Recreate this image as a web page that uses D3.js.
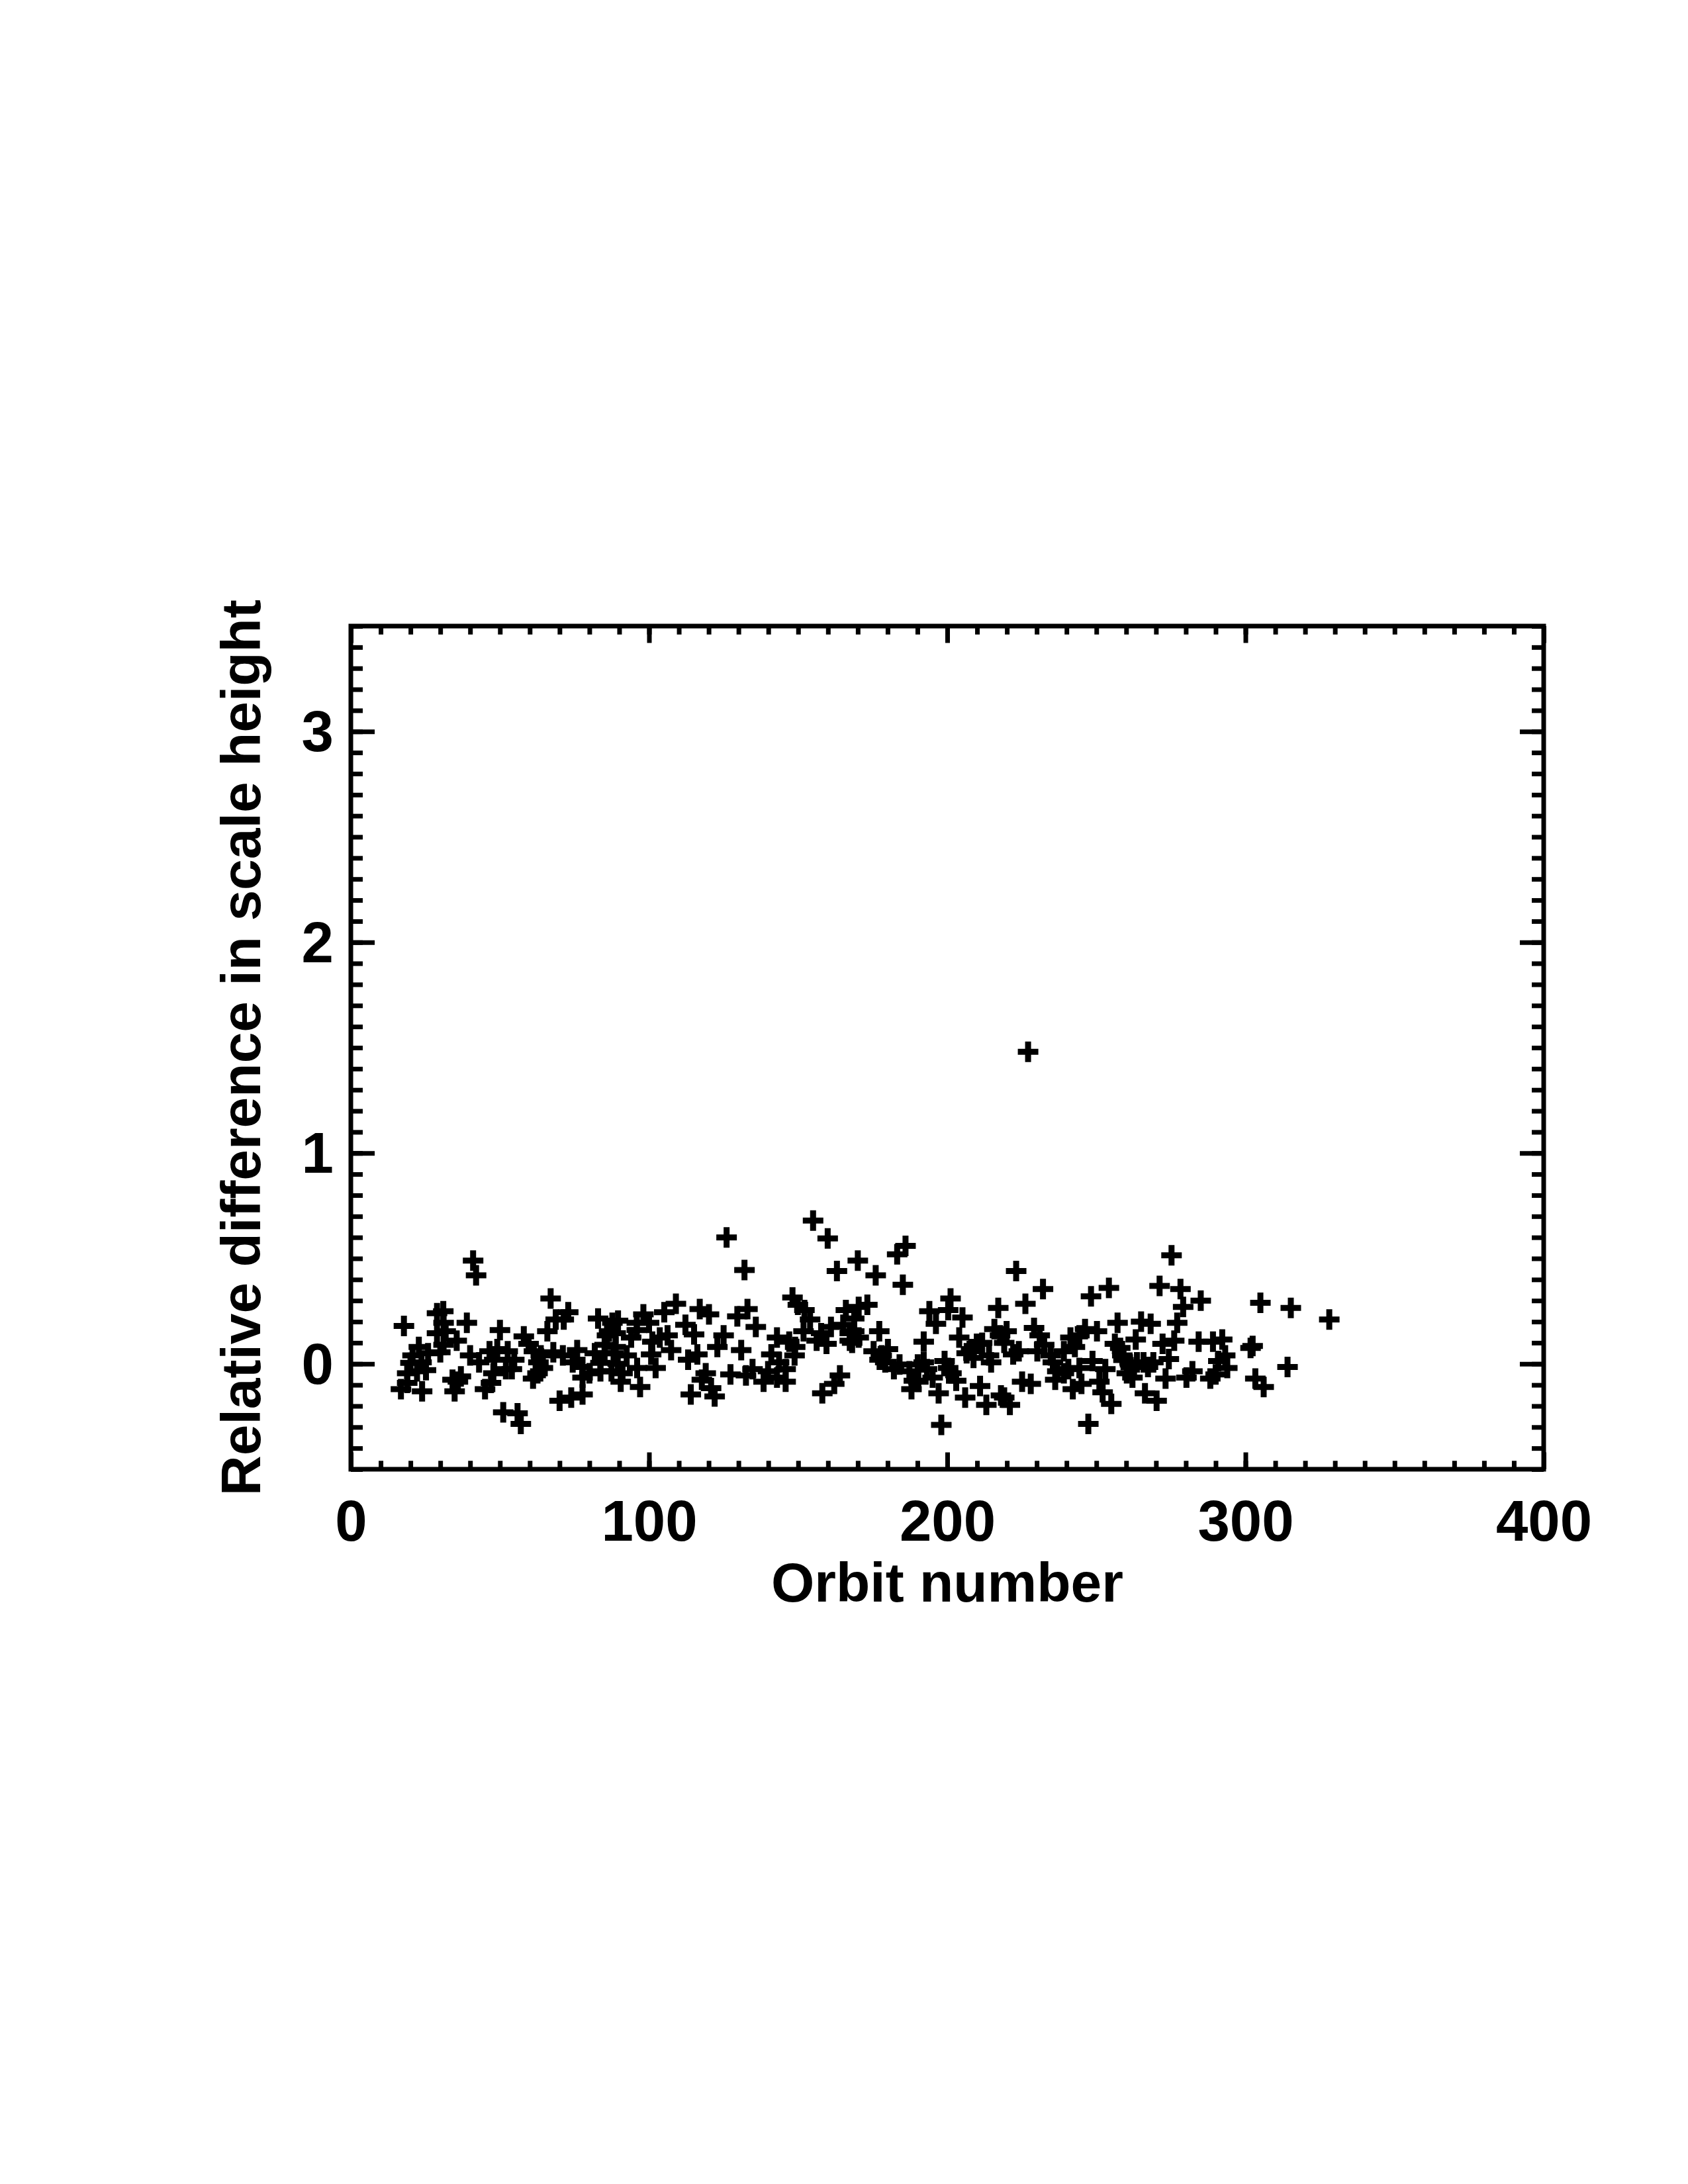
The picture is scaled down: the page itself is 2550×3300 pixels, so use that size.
<!DOCTYPE html>
<html>
<head>
<meta charset="utf-8">
<script src="https://cdn.jsdelivr.net/npm/d3@7"></script>
<style>
  body { margin: 0; background: #fff; }
  text { font-family: "Liberation Sans", Arial, Helvetica, sans-serif; font-weight: bold; fill: #000; }
</style>
</head>
<body>
<div id="chart"></div>
<script>
const orbit = [
  16.8, 17.8, 18.9, 18.9, 20.0, 20.7, 22.2, 22.8, 23.7, 23.9,
  25.2, 25.9, 28.9, 28.9, 30.0, 31.0, 31.1, 31.1, 31.8, 34.1,
  34.8, 35.5, 35.9, 36.9, 38.9, 40.0, 41.0, 42.0, 43.0, 45.0,
  46.5, 47.0, 47.8, 48.1, 49.1, 50.0, 51.1, 52.0, 52.6, 54.0,
  54.8, 55.9, 57.0, 58.0, 59.6, 61.1, 61.4, 62.6, 62.9, 63.7,
  64.4, 65.9, 67.0, 67.9, 68.7, 70.0, 71.1, 71.4, 72.9, 73.9,
  74.4, 75.9, 77.7, 77.7, 77.7, 80.0, 81.8, 82.9, 83.7, 83.7,
  85.1, 85.1, 85.9, 86.6, 87.4, 87.7, 88.1, 88.8, 88.8, 89.5,
  89.6, 90.5, 91.1, 92.5, 94.0, 95.9, 95.9, 96.0, 97.0, 98.1,
  100.0, 100.7, 101.1, 102.2, 103.6, 105.1, 106.2, 107.4, 109.0, 112.2,
  113.1, 114.0, 115.1, 116.2, 117.0, 117.7, 119.0, 120.1, 120.8, 122.0,
  122.9, 125.0, 126.0, 127.3, 129.6, 130.9, 132.0, 132.5, 133.0, 134.7,
  135.8, 138.4, 139.9, 141.0, 142.9, 142.9, 143.6, 145.8, 145.8, 147.0,
  148.1, 148.8, 149.0, 149.9, 151.8, 152.1, 154.0, 155.0, 156.2, 157.7,
  158.1, 159.5, 159.9, 161.0, 162.1, 163.0, 164.0, 165.1, 166.0, 167.3,
  167.3, 168.1, 168.8, 168.8, 170.0, 170.3, 170.3, 173.2, 175.3, 176.0,
  177.2, 177.3, 178.0, 179.2, 180.1, 182.1, 183.2, 184.0, 185.1, 186.0,
  187.3, 188.0, 188.8, 190.1, 190.3, 192.1, 192.1, 193.2, 194.0, 195.1,
  196.2, 197.1, 198.0, 199.1, 200.3, 200.3, 201.1, 201.4, 203.0, 204.0,
  205.1, 206.0, 206.5, 208.0, 208.8, 209.9, 211.0, 211.7, 213.1, 214.0,
  214.7, 215.8, 217.1, 217.7, 218.0, 219.1, 219.1, 219.9, 221.0, 222.1,
  223.1, 224.0, 225.1, 226.2, 227.1, 228.0, 229.1, 230.2, 231.0, 232.1,
  232.5, 234.7, 235.4, 236.2, 236.9, 239.1, 239.1, 240.6, 241.3, 242.1,
  242.8, 244.3, 244.3, 245.0, 246.2, 247.3, 248.2, 248.7, 250.2, 251.0,
  252.1, 253.0, 254.2, 255.0, 256.2, 257.1, 258.0, 258.7, 259.1, 260.2,
  261.3, 262.1, 263.2, 263.6, 265.0, 265.8, 266.3, 267.3, 268.2, 269.1,
  270.2, 271.2, 272.2, 273.2, 274.3, 275.2, 276.1, 277.1, 278.2, 279.1,
  280.2, 282.2, 284.3, 285.0, 288.2, 289.1, 290.0, 290.9, 292.2, 293.2,
  293.9, 301.7, 302.4, 303.3, 305.0, 306.1, 314.1, 315.2, 328.1
];

// relative difference in scale height, same order as orbit
const relDiff = [
  -0.12, 0.18, -0.09, -0.045, 0.005, 0.04, -0.035, 0.08, 0.007, -0.13,
  -0.03, 0.05, 0.24, 0.145, 0.055, 0.25, 0.195, 0.09, 0.155, -0.075,
  -0.13, 0.11, -0.085, -0.06, 0.195, 0.04, 0.49, 0.42, 0.007, -0.12,
  0.06, -0.09, -0.045, 0.02, 0.07, 0.16, -0.23, -0.025, 0.06, -0.025,
  0.02, -0.235, -0.285, 0.13, 0.095, -0.07, 0.06, -0.045, 0.007, 0.04,
  -0.02, 0.155, 0.31, 0.055, 0.21, -0.175, 0.04, 0.21, 0.245, -0.16,
  0.007, 0.065, -0.015, -0.065, -0.145, -0.045, 0.05, 0.215, -0.035, 0.005,
  0.09, 0.05, 0.135, 0.155, -0.035, 0.195, 0.05, 0.145, 0.08, 0.0,
  0.205, -0.085, -0.045, 0.04, 0.125, 0.195, 0.16, -0.02, -0.11, 0.235,
  0.195, 0.045, 0.105, -0.02, 0.125, 0.245, 0.135, 0.065, 0.285, 0.185,
  0.02, -0.145, 0.14, 0.045, 0.26, -0.075, -0.045, 0.235, -0.115, -0.155,
  0.08, 0.135, 0.6, -0.05, 0.225, 0.065, 0.445, -0.055, 0.26, -0.025,
  0.175, -0.085, -0.035, 0.045, 0.125, -0.065, 0.007, -0.025, -0.085, 0.105,
  0.315, 0.04, 0.08, 0.28, 0.155, 0.255, 0.21, 0.68, 0.11, 0.145,
  -0.14, 0.095, 0.595, 0.175, -0.095, 0.44, -0.055, 0.185, 0.255, 0.145,
  0.11, 0.1, 0.215, 0.155, 0.49, 0.27, 0.125, 0.28, 0.06, 0.42,
  0.155, 0.02, 0.04, 0.007, 0.07, -0.025, 0.52, -0.003, 0.375, 0.56,
  -0.035, -0.12, -0.08, -0.003, -0.085, 0.105, 0.007, -0.025, 0.25, -0.065,
  0.19, -0.14, -0.29, 0.013, 0.255, -0.02, 0.31, -0.045, -0.08, 0.125,
  0.22, -0.16, 0.05, 0.07, 0.028, 0.095, -0.105, 0.1, -0.195, 0.04,
  0.007, 0.165, 0.265, 0.135, -0.15, 0.1, -0.16, 0.155, -0.195, 0.045,
  0.44, 0.06, -0.085, 0.285, 1.48, -0.095, 0.17, 0.06, 0.135, 0.355,
  0.09, 0.04, 0.007, -0.075, -0.035, 0.06, -0.045, -0.025, 0.125, -0.12,
  0.08, 0.135, -0.02, -0.095, 0.165, -0.285, 0.32, 0.013, 0.155, -0.085,
  -0.135, -0.025, 0.36, -0.19, 0.095, 0.195, 0.075, 0.04, 0.018, -0.045,
  -0.003, -0.065, 0.115, 0.007, 0.2, 0.007, -0.14, -0.015, 0.19, 0.007,
  -0.175, 0.37, 0.095, -0.07, 0.023, 0.515, 0.11, 0.195, 0.355, 0.27,
  -0.065, -0.035, 0.105, 0.3, -0.07, 0.105, -0.05, 0.013, 0.115, 0.04,
  -0.02, 0.075, 0.085, -0.07, 0.29, -0.11, -0.015, 0.265, 0.21
];

// axis ranges and tick labels
const xDomain = [0, 400];
const yDomain = [-0.5, 3.5];
const xTicks = [0, 100, 200, 300, 400];
const yTicks = [0, 1, 2, 3];
const xMinorStep = 10;
const yMinorStep = 0.1;
const xTitle = 'Orbit number';
const yTitle = 'Relative difference in scale height';

// page and plot box
const pageW = 2550, pageH = 3300;
const margin = {left: 530, top: 946};
const width = 1802, height = 1274;
const lineW = 7;
const tickFont = 87;
const titleFont = 84;

const svg = d3.select('#chart').append('svg')
    .attr('width', pageW)
    .attr('height', pageH)
    .style('background', '#fff');

const g = svg.append('g')
    .attr('transform', `translate(${margin.left},${margin.top})`);

const x = d3.scaleLinear().domain(xDomain).range([0, width]);
const y = d3.scaleLinear().domain(yDomain).range([height, 0]);

const xMinor = d3.range(xDomain[0], xDomain[1] + 1e-9, xMinorStep);
const yMinor = d3.range(0, 41).map(i => +(yDomain[0] + i * yMinorStep).toFixed(2));

// tick length as in IDL: 2% of the plot size, minors half as long
const xMajorLen = 0.02 * height, xMinorLen = xMajorLen / 2;
const yMajorLen = 0.02 * width, yMinorLen = yMajorLen / 2;

function styleAxis(sel) {
    sel.select('.domain').remove();
    sel.selectAll('.tick line').attr('stroke', '#000').attr('stroke-width', lineW);
    sel.selectAll('.tick text')
        .style('font-size', tickFont + 'px')
        .style('font-family', '"Liberation Sans", Arial, Helvetica, sans-serif')
        .style('font-weight', 'bold')
        .attr('fill', '#000');
}

// bottom axis with labels
g.append('g')
    .attr('transform', `translate(0,${height})`)
    .call(d3.axisBottom(x).tickValues(xTicks).tickSize(-xMajorLen).tickPadding(46).tickFormat(d3.format('d')))
    .call(styleAxis);
g.append('g')
    .attr('transform', `translate(0,${height})`)
    .call(d3.axisBottom(x).tickValues(xMinor).tickSize(-xMinorLen).tickFormat(''))
    .call(styleAxis);

// top axis, ticks only
g.append('g')
    .call(d3.axisTop(x).tickValues(xTicks).tickSize(-xMajorLen).tickFormat(''))
    .call(styleAxis);
g.append('g')
    .call(d3.axisTop(x).tickValues(xMinor).tickSize(-xMinorLen).tickFormat(''))
    .call(styleAxis);

// left axis with labels
const yAx = g.append('g')
    .call(d3.axisLeft(y).tickValues(yTicks).tickSize(-yMajorLen).tickPadding(26).tickFormat(d3.format('d')))
    .call(styleAxis);
yAx.selectAll('.tick text').attr('dy', '0.34em');
g.append('g')
    .call(d3.axisLeft(y).tickValues(yMinor).tickSize(-yMinorLen).tickFormat(''))
    .call(styleAxis);

// right axis, ticks only
g.append('g')
    .attr('transform', `translate(${width},0)`)
    .call(d3.axisRight(y).tickValues(yTicks).tickSize(-yMajorLen).tickFormat(''))
    .call(styleAxis);
g.append('g')
    .attr('transform', `translate(${width},0)`)
    .call(d3.axisRight(y).tickValues(yMinor).tickSize(-yMinorLen).tickFormat(''))
    .call(styleAxis);

// plot frame
g.append('rect')
    .attr('x', 0).attr('y', 0)
    .attr('width', width).attr('height', height)
    .attr('fill', 'none')
    .attr('stroke', '#000')
    .attr('stroke-width', lineW);

// plus markers
const points = orbit.map((o, i) => ({orbit: o, value: relDiff[i]}));
const arm = 15.5;
g.append('g').selectAll('path')
    .data(points)
    .enter()
    .append('path')
    .attr('transform', d => `translate(${x(d.orbit)},${y(d.value)})`)
    .attr('d', `M${-arm},0H${arm}M0,${-arm}V${arm}`)
    .attr('stroke', '#000')
    .attr('stroke-width', 9)
    .attr('fill', 'none');

// axis titles
g.append('text')
    .attr('x', width / 2)
    .attr('y', 2420 - margin.top)
    .attr('text-anchor', 'middle')
    .style('font-size', titleFont + 'px')
    .text(xTitle);

g.append('text')
    .attr('transform', `translate(${393 - margin.left},${height / 2}) rotate(-90)`)
    .attr('text-anchor', 'middle')
    .style('font-size', titleFont + 'px')
    .text(yTitle);
</script>
</body>
</html>
